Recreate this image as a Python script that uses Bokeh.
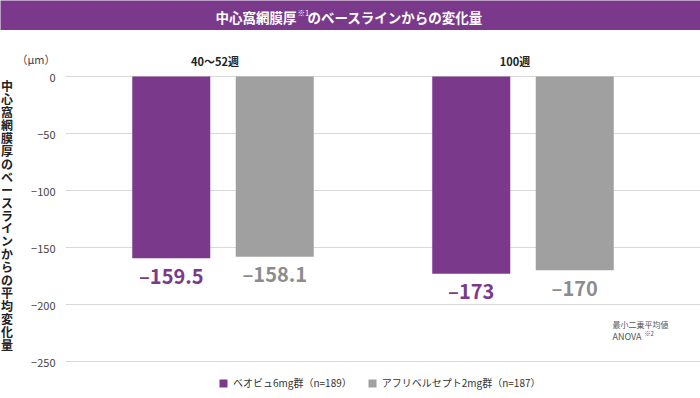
from bokeh.plotting import figure
from bokeh.layouts import column, row
from bokeh.models import (ColumnDataSource, Range1d, FixedTicker, CustomJSTickFormatter, Label)
from bokeh.transform import dodge
from bokeh.core.properties import value
from bokeh.embed import file_html
from bokeh.resources import INLINE

# ---- data ----
groups = ["40〜52週", "100週"]
beovu = [-159.5, -173]
aflib = [-158.1, -170]
series_names = ["ベオビュ6mg群（n=189）", "アフリベルセプト2mg群（n=187）"]
yticks = [0, -50, -100, -150, -200, -250]
title_parts = ["中心窩網膜厚", "※1", "のベースラインからの変化量"]
ylabel = "中心窩網膜厚のベースラインからの平均変化量"
unit_label = "（μm）"
note_lines = ["最小二乗平均値", "ANOVA", "※2"]

PURPLE = "#7b398b"
GRAY = "#a0a0a0"
FONT = "Noto Sans CJK JP"

W = 700
TH = 30          # title bar height
H = 368          # main chart height
LW = 13          # width of the vertical-label strip
LEFT = 65        # page x of the plotting frame

def fmt(v):
    return "–" + ("%g" % abs(v)) if v < 0 else "%g" % v

def blank(width, height, bg):
    f = figure(width=width, height=height, output_backend="svg", toolbar_location=None,
               title=None, x_axis_location=None, y_axis_location=None,
               x_range=Range1d(0, width), y_range=Range1d(0, height),
               min_border=0, min_border_left=0, min_border_right=0,
               min_border_top=0, min_border_bottom=0, frame_align=False)
    f.outline_line_color = None
    f.background_fill_color = bg
    f.border_fill_color = bg
    f.xgrid.grid_line_color = None
    f.ygrid.grid_line_color = None
    return f

# ---------------- title bar ----------------
t = blank(W, TH, PURPLE)
ty = TH - 16
t.add_layout(Label(x=215, y=ty, x_units="screen", y_units="screen", text=title_parts[0],
                   text_font=FONT, text_font_style="bold", text_font_size="13.5px",
                   text_color="white", text_align="left", text_baseline="middle"))
t.add_layout(Label(x=297, y=ty + 4, x_units="screen", y_units="screen", text=title_parts[1],
                   text_font=FONT, text_font_size="7.5px",
                   text_color="white", text_align="left", text_baseline="middle"))
t.add_layout(Label(x=307, y=ty, x_units="screen", y_units="screen", text=title_parts[2],
                   text_font=FONT, text_font_style="bold", text_font_size="13.5px",
                   text_color="white", text_align="left", text_baseline="middle"))

# ---------------- vertical axis title strip (upright, stacked characters) ----------------
lf = blank(LW, H, "white")
chars = list(ylabel)
step = 12.95
first = 85 - TH
lf.text(x=[LW / 2.0] * len(chars), y=[H - (first + i * step) for i in range(len(chars))],
        text=chars, text_font=value(FONT), text_font_style="bold", text_font_size="12px",
        text_color="#222222", text_align="center", text_baseline="middle")

# ---------------- main chart ----------------
src = ColumnDataSource(dict(
    x=list(range(len(groups))),
    grp=groups,
    beovu=beovu,
    aflib=aflib,
    beovu_lbl=[fmt(v) for v in beovu],
    aflib_lbl=[fmt(v) for v in aflib],
))

ZERO = 46        # px from top of chart to value 0
PPU = 1.14       # px per unit
MW = W - LW
ML = LEFT - LW
p = figure(width=MW, height=H, output_backend="svg", toolbar_location=None,
           title=None, x_axis_location=None, frame_align=False,
           x_range=Range1d(-0.525, -0.525 + (MW - ML) / 300.0),
           y_range=Range1d(-(H - ZERO) / PPU, ZERO / PPU),
           min_border_left=ML, min_border_right=0,
           min_border_top=0, min_border_bottom=0)
p.outline_line_color = None
p.background_fill_color = "white"
p.border_fill_color = "white"

unit_tick = 15
ax = p.yaxis[0]
ax.ticker = FixedTicker(ticks=yticks + [unit_tick])
ax.formatter = CustomJSTickFormatter(code="return tick < 0 ? '\u2212' + Math.abs(tick) : '' + tick;")
ax.major_label_overrides = {unit_tick: unit_label}
ax.axis_line_color = None
ax.major_tick_line_color = None
ax.minor_tick_line_color = None
ax.major_label_standoff = 4
ax.major_label_text_font = FONT
ax.major_label_text_font_size = "11px"
ax.major_label_text_color = "#444444"
p.ygrid[0].ticker = FixedTicker(ticks=yticks)
p.ygrid.grid_line_color = "#d9d9d9"
p.ygrid.grid_line_width = 1
p.xgrid.grid_line_color = None

OFF = 0.1725
BW = 0.26
p.vbar(x=dodge("x", -OFF, range=p.x_range), top="beovu", bottom=0, width=BW,
       fill_color=PURPLE, line_color=None, source=src, legend_label=series_names[0])
p.vbar(x=dodge("x", OFF, range=p.x_range), top="aflib", bottom=0, width=BW,
       fill_color=GRAY, line_color=None, source=src, legend_label=series_names[1])

p.text(x=dodge("x", -OFF, range=p.x_range), y="beovu", text="beovu_lbl", source=src,
       text_font=value(FONT), text_font_style="bold", text_font_size="20px",
       text_color=PURPLE, text_align="center", text_baseline="middle", y_offset=17)
p.text(x=dodge("x", OFF, range=p.x_range), y="aflib", text="aflib_lbl", source=src,
       text_font=value(FONT), text_font_style="bold", text_font_size="20px",
       text_color="#8c8c8c", text_align="center", text_baseline="middle", y_offset=17)

p.text(x="x", y=14, text="grp", source=src, x_offset=-8,
       text_font=value(FONT), text_font_style="bold", text_font_size="11px",
       text_color="#222222", text_align="center", text_baseline="middle")

lg = p.legend[0]
lg.orientation = "horizontal"
lg.location = (153, 8)
lg.padding = 0
lg.margin = 0
lg.spacing = 15
lg.border_line_color = None
lg.background_fill_alpha = 0
lg.glyph_width = 10
lg.glyph_height = 10
lg.label_height = 14
lg.label_standoff = 5
lg.label_text_font = FONT
lg.label_text_font_size = "10px"
lg.label_text_color = "#333333"

p.add_layout(Label(x=547, y=H + TH - 324, x_units="screen", y_units="screen", text=note_lines[0],
                   text_font=FONT, text_font_size="8px", text_color="#555555",
                   text_align="left", text_baseline="middle"))
p.add_layout(Label(x=547, y=H + TH - 336, x_units="screen", y_units="screen", text=note_lines[1],
                   text_font=FONT, text_font_size="9px", text_color="#555555",
                   text_align="left", text_baseline="middle"))
p.add_layout(Label(x=579, y=H + TH - 333, x_units="screen", y_units="screen", text=note_lines[2],
                   text_font=FONT, text_font_size="6px", text_color="#555555",
                   text_align="left", text_baseline="middle"))

layout = column(t, row(lf, p, spacing=0), spacing=0)
open("out.html", "w").write(file_html(layout, INLINE))
